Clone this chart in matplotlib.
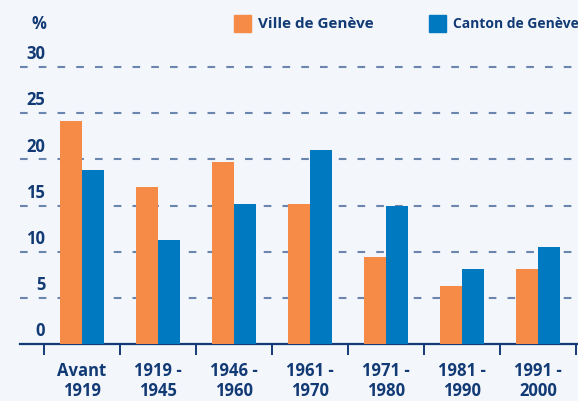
import matplotlib
matplotlib.use('Agg')
import matplotlib.pyplot as plt
import numpy as np

# data
periods = ["Avant\n1919", "1919 -\n1945", "1946 -\n1960", "1961 -\n1970",
           "1971 -\n1980", "1981 -\n1990", "1991 -\n2000"]
ville = [24.1, 17.0, 19.7, 15.2, 9.4, 6.3, 8.1]
canton = [18.8, 11.3, 15.2, 21.0, 14.9, 8.1, 10.5]
yticks = [0, 5, 10, 15, 20, 25, 30]

ORANGE = "#F68B47"
BLUE = "#0079C1"
NAVY = "#123A75"
GRID = "#6A86AE"
BG = "#F3F6FB"

plt.rcParams['font.family'] = ['Open Sans', 'DejaVu Sans']
plt.rcParams['lines.scale_dashes'] = False

W, H = 578, 401
fig = plt.figure(figsize=(W / 100, H / 100), dpi=100)
fig.patch.set_facecolor(BG)

# axes placement in pixels: y=0 at 344px, 9.233 px per unit; x: 76 px per category
y0_px, ppu = 344, 9.233
ytop = 30.6
x_left, x_right = -0.816, 6.526
ax = fig.add_axes([20 / W, (H - y0_px) / H, 558 / W, ytop * ppu / H])
ax.set_facecolor("none")
ax.set_xlim(x_left, x_right)
ax.set_ylim(0, ytop)

x = np.arange(len(periods))
bw = 0.29
for v in yticks[1:]:
    ax.axhline(v, color=GRID, lw=1.5, linestyle=(0, (5.5, 8)), zorder=1)
ax.bar(x - bw / 2, ville, width=bw, color=ORANGE, zorder=3)
ax.bar(x + bw / 2, canton, width=bw, color=BLUE, zorder=3)

for s in ["top", "right", "left"]:
    ax.spines[s].set_visible(False)
ax.spines["bottom"].set_color(NAVY)
ax.spines["bottom"].set_linewidth(1.6)
ax.set_yticks([])
ax.set_xticks(np.arange(-0.5, len(periods)))
ax.set_xticklabels([])
ax.tick_params(axis="x", direction="out", length=8, width=1.4, color=NAVY)

for v in yticks:
    ax.text(-0.485, v + 0.4, str(v), ha="right", va="bottom", fontsize=12,
            fontweight="bold", color=NAVY)
for i, lab in enumerate(periods):
    ax.text(i, -1.9, lab, ha="center", va="top", fontsize=12, fontweight="bold",
            color=NAVY, linespacing=1.2)

fig.text(39 / W, 1 - 24 / H, "%", ha="center", va="center", fontsize=12,
         fontweight="bold", color=NAVY)

# legend
fig.patches.append(plt.Rectangle((234 / W, 1 - 32 / H), 17 / W, 17 / H,
                                 transform=fig.transFigure, color=ORANGE))
fig.text(258 / W, 1 - 24 / H, "Ville de Genève", ha="left", va="center",
         fontsize=11, fontweight="bold", color=NAVY)
fig.patches.append(plt.Rectangle((429 / W, 1 - 32 / H), 17 / W, 17 / H,
                                 transform=fig.transFigure, color=BLUE))
fig.text(453 / W, 1 - 24 / H, "Canton de Genève", ha="left", va="center",
         fontsize=10, fontweight="bold", color=NAVY)

fig.savefig("out.png", dpi=100, facecolor=BG)
